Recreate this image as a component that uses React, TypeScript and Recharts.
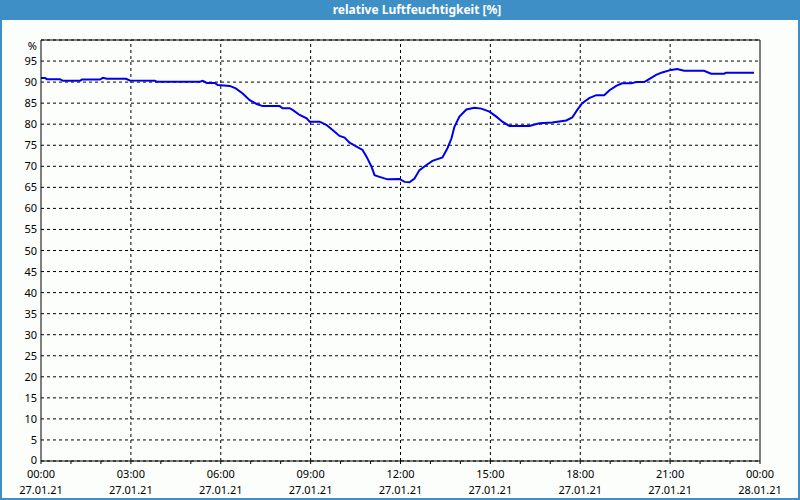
import { LineChart, Line, CartesianGrid, XAxis, YAxis, ReferenceLine } from 'recharts';

// minutes since 27.01.21 00:00
const minutes = [
  0, 8, 12, 38, 44, 78, 82, 118, 124, 132, 170, 178, 228, 232, 318, 324, 332, 348, 354, 378,
  390, 404, 418, 432, 444, 478, 484, 498, 504, 518, 532, 538, 558, 572, 584, 598, 608, 618, 632, 644,
  652, 662, 668, 678, 694, 718, 728, 738, 748, 758, 772, 784, 804, 814, 822, 828, 838, 852, 868, 882,
  898, 912, 924, 938, 978, 998, 1024, 1052, 1064, 1074, 1084, 1098, 1112, 1128, 1138, 1152, 1164, 1182, 1192, 1208,
  1218, 1232, 1244, 1262, 1274, 1288, 1328, 1342, 1368, 1372, 1428,
];

// relative humidity [%]
const humidity = [
  91.0, 91.0, 90.7, 90.7, 90.3, 90.3, 90.6, 90.6, 91.0, 90.8, 90.8, 90.4, 90.3, 90.1, 90.1, 90.3, 89.8, 89.8, 89.3, 89.1,
  88.5, 87.3, 85.7, 84.8, 84.3, 84.3, 83.8, 83.8, 83.4, 82.2, 81.4, 80.6, 80.6, 79.8, 78.6, 77.2, 76.8, 75.6, 74.7, 73.9,
  72.3, 69.9, 67.9, 67.5, 66.9, 67.0, 66.3, 66.2, 67.1, 69.1, 70.3, 71.3, 72.1, 74.3, 76.6, 79.4, 81.8, 83.5, 83.9, 83.7,
  83.0, 81.8, 80.6, 79.6, 79.6, 80.2, 80.4, 80.9, 81.6, 83.4, 85.0, 86.2, 86.9, 86.9, 88.0, 89.1, 89.7, 89.7, 90.0, 90.0,
  90.7, 91.7, 92.3, 92.9, 93.1, 92.7, 92.7, 92.0, 92.0, 92.2, 92.2,
];

const timeLabels = ['00:00', '03:00', '06:00', '09:00', '12:00', '15:00', '18:00', '21:00', '00:00'];
const dateLabels = ['27.01.21', '27.01.21', '27.01.21', '27.01.21', '27.01.21', '27.01.21', '27.01.21', '27.01.21', '28.01.21'];

const yTicks = [0, 5, 10, 15, 20, 25, 30, 35, 40, 45, 50, 55, 60, 65, 70, 75, 80, 85, 90, 95, 100];
const hourTicks = Array.from({ length: 25 }, (_, i) => i * 60);
const majorTicks = [180, 360, 540, 720, 900, 1080, 1260];

const data = minutes.map((m, i) => ({ t: m, value: humidity[i] }));

const font = '"Noto Sans", sans-serif';
const frameBlue = '#3d8fc6';

const XTick = (props: any) => {
  const { x, y, payload } = props;
  const v = payload.value;
  if (v % 180 !== 0) return null;
  const idx = v / 180;
  return (
    <g>
      <text x={x} y={y} dy={12} textAnchor="middle" fontSize={11} fontFamily={font} fill="#000">
        {timeLabels[idx]}
      </text>
      <text x={x} y={y} dy={28} textAnchor="middle" fontSize={11} fontFamily={font} fill="#000">
        {dateLabels[idx]}
      </text>
    </g>
  );
};

const YTick = (props: any) => {
  const { x, y, payload } = props;
  const label = payload.value === 100 ? '%' : String(payload.value);
  let dy = 4;
  if (payload.value === 100) dy = 10;
  if (payload.value === 0) dy = 3;
  return (
    <text x={x} y={y} dy={dy} textAnchor="end" fontSize={11} fontFamily={font} fill="#000">
      {label}
    </text>
  );
};

export default function App() {
  return (
    <div
      style={{
        position: 'absolute',
        left: 0,
        top: 0,
        width: 800,
        height: 500,
        boxSizing: 'border-box',
        border: `2px solid ${frameBlue}`,
        background: '#fcfefc',
      }}
    >
      <div
        style={{
          position: 'absolute',
          left: -2,
          top: -2,
          width: 800,
          height: 20,
          background: frameBlue,
          color: '#fff',
          fontFamily: font,
          fontSize: 12,
          fontWeight: 'bold',
          lineHeight: '20px',
          textAlign: 'center',
          paddingLeft: 34,
          boxSizing: 'border-box',
        }}
      >
        relative Luftfeuchtigkeit [%]
      </div>
      <div style={{ position: 'absolute', left: -2, top: -2 }}>
        <LineChart width={800} height={500} data={data} margin={{ top: 40, right: 40, bottom: 4, left: 0 }}>
          <CartesianGrid vertical={false} stroke="#000" strokeDasharray="3 3" />
          {majorTicks.map((m) => (
            <ReferenceLine key={m} x={m} stroke="#000" strokeDasharray="3 3" />
          ))}
          <ReferenceLine y={100} stroke="#000" />
          <ReferenceLine x={1440} stroke="#000" />
          <XAxis
            dataKey="t"
            type="number"
            domain={[0, 1440]}
            ticks={hourTicks}
            interval={0}
            height={35}
            axisLine={{ stroke: '#000' }}
            tickLine={{ stroke: '#000' }}
            tickSize={3}
            tick={<XTick />}
          />
          <YAxis
            type="number"
            domain={[0, 100]}
            ticks={yTicks}
            interval={0}
            width={41}
            axisLine={{ stroke: '#000' }}
            tickLine={false}
            tickSize={0}
            tickMargin={4}
            tick={<YTick />}
          />
          <Line
            type="linear"
            dataKey="value"
            stroke="#0000e8"
            strokeWidth={2}
            dot={false}
            isAnimationActive={false}
          />
        </LineChart>
      </div>
    </div>
  );
}
